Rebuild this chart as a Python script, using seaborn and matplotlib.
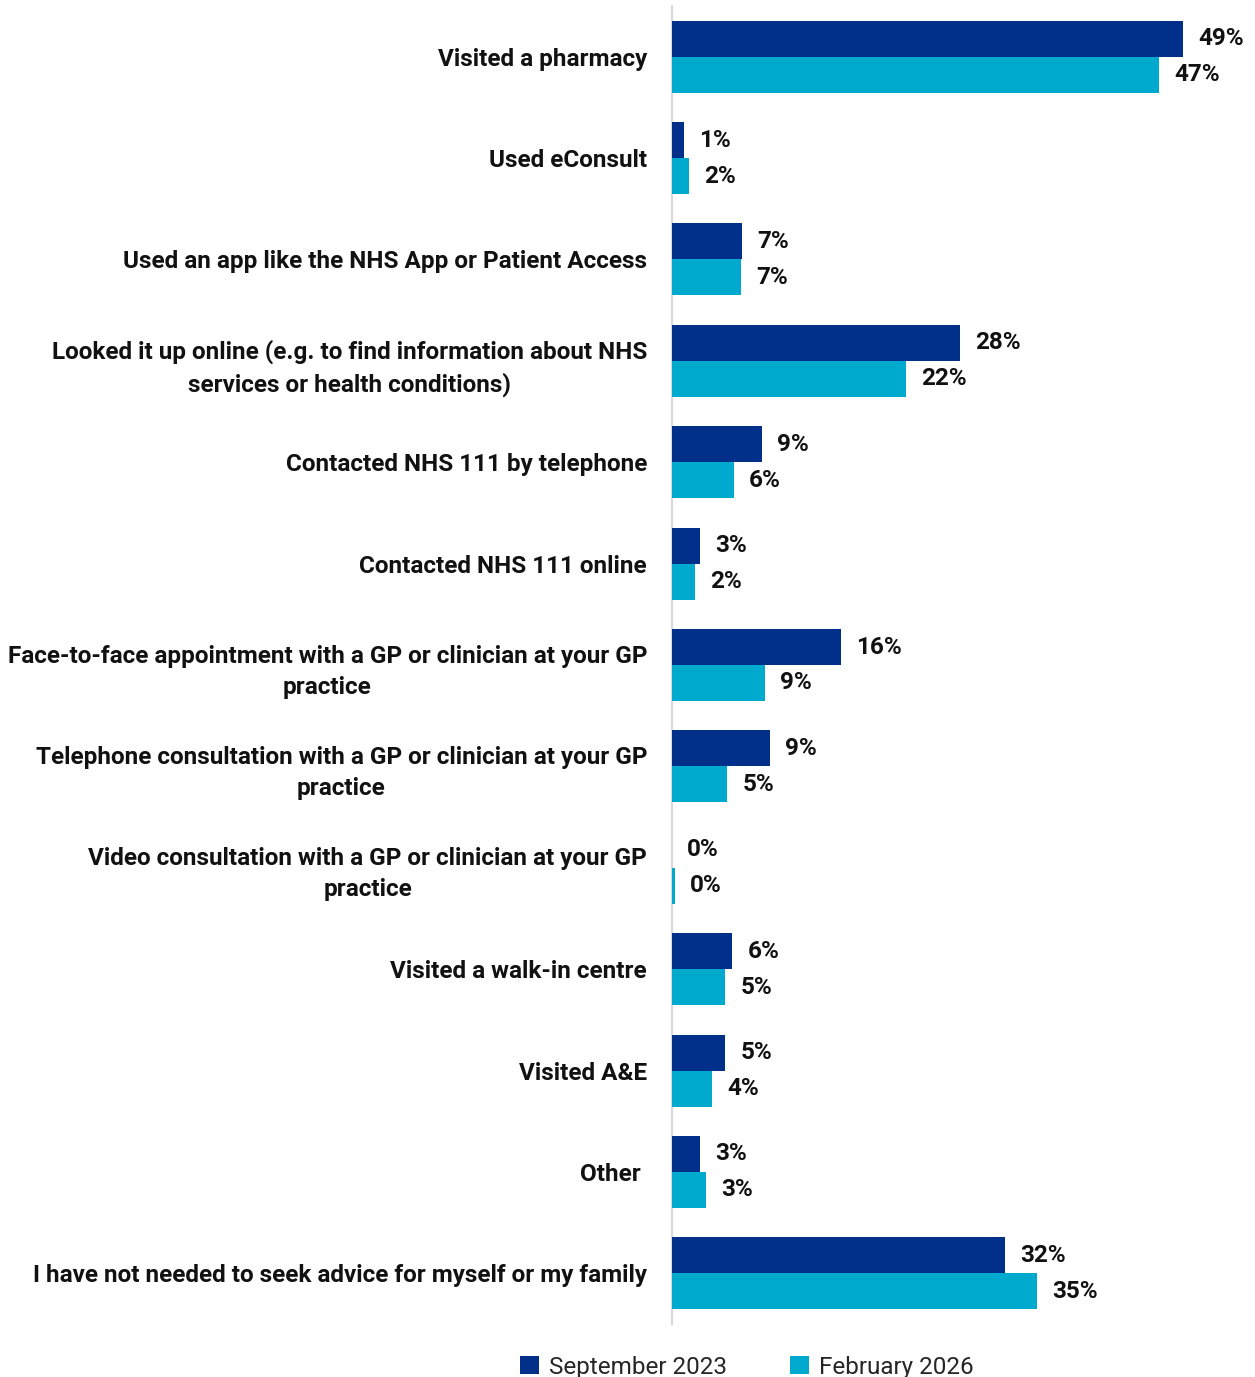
import matplotlib
matplotlib.use("Agg")
import matplotlib.pyplot as plt
import seaborn as sns
import pandas as pd
from matplotlib.patches import Patch

categories = [
    "Visited a pharmacy",
    "Used eConsult",
    "Used an app like the NHS App or Patient Access",
    "Looked it up online (e.g. to find information about NHS\nservices or health conditions)",
    "Contacted NHS 111 by telephone",
    "Contacted NHS 111 online",
    "Face-to-face appointment with a GP or clinician at your GP\npractice",
    "Telephone consultation with a GP or clinician at your GP\npractice",
    "Video consultation with a GP or clinician at your GP\npractice",
    "Visited a walk-in centre",
    "Visited A&E",
    "Other ",
    "I have not needed to seek advice for myself or my family",
]
sep_2023 = [49.0, 1.15, 6.7, 27.6, 8.6, 2.7, 16.2, 9.4, 0.0, 5.8, 5.1, 2.7, 31.9]
feb_2026 = [46.7, 1.6, 6.6, 22.4, 5.9, 2.2, 8.9, 5.3, 0.25, 5.1, 3.8, 3.3, 35.0]
series_names = ["September 2023", "February 2026"]
colors = ["#00308A", "#00A9CE"]

df = pd.DataFrame({
    "category": categories * 2,
    "value": sep_2023 + feb_2026,
    "series": [series_names[0]] * len(categories) + [series_names[1]] * len(categories),
})

sns.set_theme(style="white")
plt.rcParams['font.family'] = ['Roboto', 'DejaVu Sans']

fig = plt.figure(figsize=(12.55, 13.77), dpi=100)
ax = fig.add_axes([672 / 1255, 1 - 1324 / 1377, 1 - 672 / 1255, (1324 - 6) / 1377])

sns.barplot(data=df, y="category", x="value", hue="series", hue_order=series_names,
            palette=colors, width=0.71, orient="h", ax=ax, legend=False,
            edgecolor="none", linewidth=0, saturation=1, zorder=3)

for cont in ax.containers:
    ax.bar_label(cont, labels=[f"{v:.0f}%" for v in cont.datavalues], padding=11,
                 fontsize=17.5, fontweight="bold", color="#111111")

ax.set_xlim(0, 583 / 10.43)
ax.set_ylim(12.5, -0.5)
ax.set_xlabel("")
ax.set_ylabel("")
ax.set_xticks([])
for s in ["top", "right", "bottom"]:
    ax.spines[s].set_visible(False)
ax.spines["left"].set_color("#D9D9D9")
ax.spines["left"].set_linewidth(1.5)
ax.spines["left"].set_zorder(0.5)
ax.tick_params(axis="y", length=0, pad=18)
for lab in ax.get_yticklabels():
    lab.set_fontsize(17.5)
    lab.set_fontweight("bold")
    lab.set_color("#111111")
    lab.set_multialignment("center")
    lab.set_linespacing(1.45)

handles = [Patch(facecolor=c, edgecolor="none") for c in colors]
fig.legend(handles, series_names, loc="lower center", bbox_to_anchor=(0.595, -0.017),
           ncol=2, frameon=False, handlelength=0.8, handleheight=0.8,
           handletextpad=0.4, columnspacing=2.6,
           prop={"size": 17.5, "family": ['Roboto', 'DejaVu Sans']})

fig.savefig("out.png", dpi=100)
